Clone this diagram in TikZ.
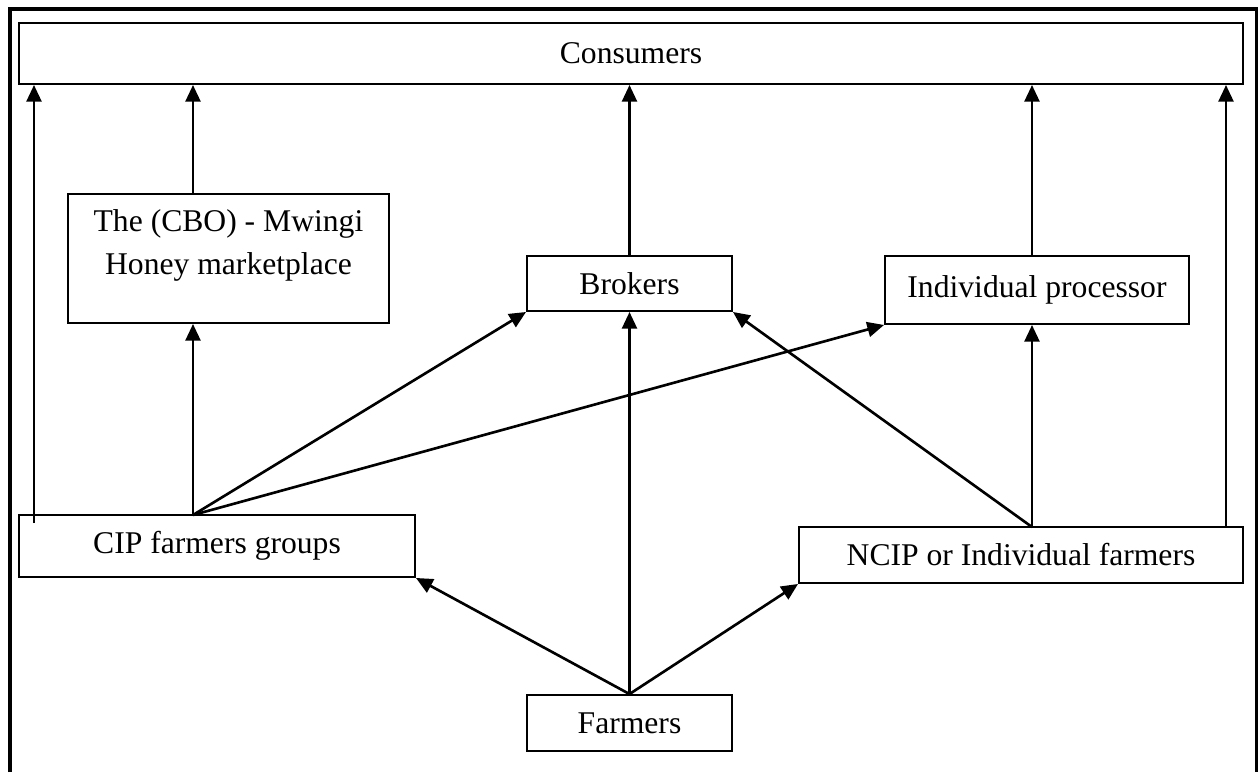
\documentclass[tikz,border=0pt]{standalone}
\usepackage{fontspec}
\setmainfont{Liberation Serif}
\usetikzlibrary{arrows.meta,calc}
\begin{document}
\begin{tikzpicture}[x=0.02cm,y=-0.02cm,
  box/.style={draw,line width=1.1pt,rectangle,inner sep=0pt,font=\fontsize{18}{24.5}\selectfont},
  arr/.style={line width=1.5pt,-{Triangle[length=9.5pt,width=8.5pt]}},
  ln/.style={line width=1.5pt}]
\useasboundingbox (0,0) rectangle (1258,772);
\draw[line width=1.8pt] (10,772) -- (10,9) -- (1257,9) -- (1257,772);
\node[box,minimum width=1224*0.02cm,minimum height=61*0.02cm] (cons) at (631,53.5) {Consumers};
\node[box,minimum width=321*0.02cm,minimum height=129*0.02cm,
  label={[anchor=north,align=center,inner sep=0pt,yshift=-16*0.02cm,font=\fontsize{18}{24.5}\selectfont]north:The (CBO) - Mwingi\\Honey marketplace}] (cbo) at (228.5,258.5) {};
\node[box,minimum width=205*0.02cm,minimum height=55*0.02cm] (brk) at (629.5,283.5) {Brokers};
\node[box,minimum width=304*0.02cm,minimum height=68*0.02cm] (ip) at (1037,290) {Individual processor};
\node[box,minimum width=396*0.02cm,minimum height=62*0.02cm] (cip) at (217,546) {CIP farmers groups};
\node[box,minimum width=444*0.02cm,minimum height=56*0.02cm] (ncip) at (1021,555) {NCIP or Individual farmers};
\node[box,minimum width=205*0.02cm,minimum height=56*0.02cm] (farm) at (629.5,723) {Farmers};
\coordinate (c1) at (34,523);
\coordinate (cj) at (193,515);
\coordinate (nj) at (1032,527);
\coordinate (nr) at (1226,527);
\coordinate (fj) at (farm.north);
% to consumers
\draw[arr] (c1) -- (c1 |- cons.south);
\draw[arr] (cj |- cbo.north) -- (cj |- cons.south);
\draw[arr] (brk.north) -- (brk.north |- cons.south);
\draw[arr] (nj |- ip.north) -- (nj |- cons.south);
\draw[arr] (nr) -- (nr |- cons.south);
% from CIP
\draw[arr] (cj) -- (cj |- cbo.south);
\draw[arr] (cj) -- (brk.south west);
\draw[arr] (cj) -- (ip.south west);
% from NCIP
\draw[arr] (nj) -- (nj |- ip.south);
\draw[arr] (nj) -- (brk.south east);
% from farmers
\draw[arr] (fj) -- (brk.south);
\draw[arr] (fj) -- (cip.south east);
\draw[arr] (fj) -- (ncip.south west);
\end{tikzpicture}
\end{document}
